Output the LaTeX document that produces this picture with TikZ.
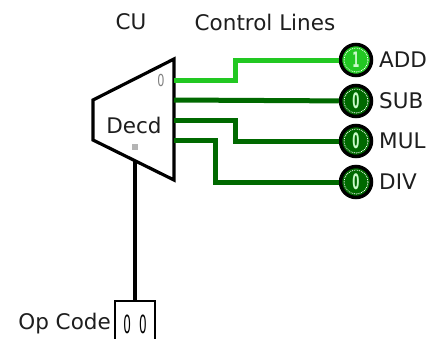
\documentclass[tikz,border=0pt]{standalone}
\usepackage{fontspec}
\usepackage{graphicx}
\setmainfont{DejaVu Sans}
\definecolor{litgreen}{RGB}{34,200,34}
\definecolor{dimgreen}{RGB}{0,105,0}
\definecolor{ledtext}{RGB}{200,250,200}
\definecolor{pingray}{RGB}{180,180,180}
\definecolor{txtgray}{RGB}{30,30,30}
\newcommand{\narrowdigit}[1]{\scalebox{0.6}[1.25]{#1}}
\begin{document}
\begin{tikzpicture}[x=1pt,y=-1pt,
  font=\fontsize{21.5}{24}\selectfont, text=txtgray,
  wire/.style={line width=5pt},
  led/.style={circle, draw=black, line width=3.5pt, minimum size=31pt, inner sep=0pt,
    font=\fontsize{17}{17}\selectfont\bfseries, text=ledtext},
  ring/.style={white, densely dotted, line width=0.8pt},
  lbl/.style={anchor=west, inner sep=0pt},
  opbox/.style={draw=black, line width=2.2pt, minimum width=40pt, minimum height=46pt, inner sep=0pt,
    font=\fontsize{20}{20}\selectfont, text=black}]
\useasboundingbox[fill=white] (0,0) rectangle (427,338);

% decoder
\draw[line width=3.2pt, line join=miter] (93,100) -- (174,59) -- (174,180) -- (93,140) -- cycle;
\coordinate (o0) at (174,80);
\coordinate (o1) at (174,100);
\coordinate (o2) at (174,120);
\coordinate (o3) at (174,140);
\coordinate (sel) at (135,160.7);
\node (decd) at (134,125) {Decd};
\node[text=gray, font=\fontsize{15}{15}\selectfont] (zero) at (161,80) {\scalebox{0.75}[1.1]{0}};
\node[fill=pingray, minimum size=6pt, inner sep=0pt] (selpin) at (135,147) {};

% titles
\node (cu) at (131,22) {CU};
\node (cl) at (265,22) {Control Lines};

% LEDs
\node[led, fill=litgreen] (add) at (356,60) {\narrowdigit{1}};
\node[led, fill=dimgreen] (sub) at (356,101) {\narrowdigit{0}};
\node[led, fill=dimgreen] (mul) at (356,141) {\narrowdigit{0}};
\node[led, fill=dimgreen] (div) at (356,182) {\narrowdigit{0}};
\foreach \n in {add,sub,mul,div} \draw[ring] (\n) circle (12);
\node[lbl] (addl) at (379,60) {ADD};
\node[lbl] (subl) at (379,101) {SUB};
\node[lbl] (mull) at (379,141) {MUL};
\node[lbl] (divl) at (379,182) {DIV};

% wires
\draw[wire, litgreen] (o0) -- (235,80) |- (add);
\draw[wire, dimgreen] (o1) -- (sub);
\draw[wire, dimgreen] (o2) -- (235,120) |- (mul);
\draw[wire, dimgreen] (o3) -- (215,140) |- (div);

% op code
\node[opbox] (op) at (135,324) {\narrowdigit{0}\hspace{8pt}\narrowdigit{0}};
\node[anchor=east, inner sep=0pt] (opl) at (111,324) {Op Code};
\draw[line width=4pt] (sel) -- (op.north);
\end{tikzpicture}
\end{document}
